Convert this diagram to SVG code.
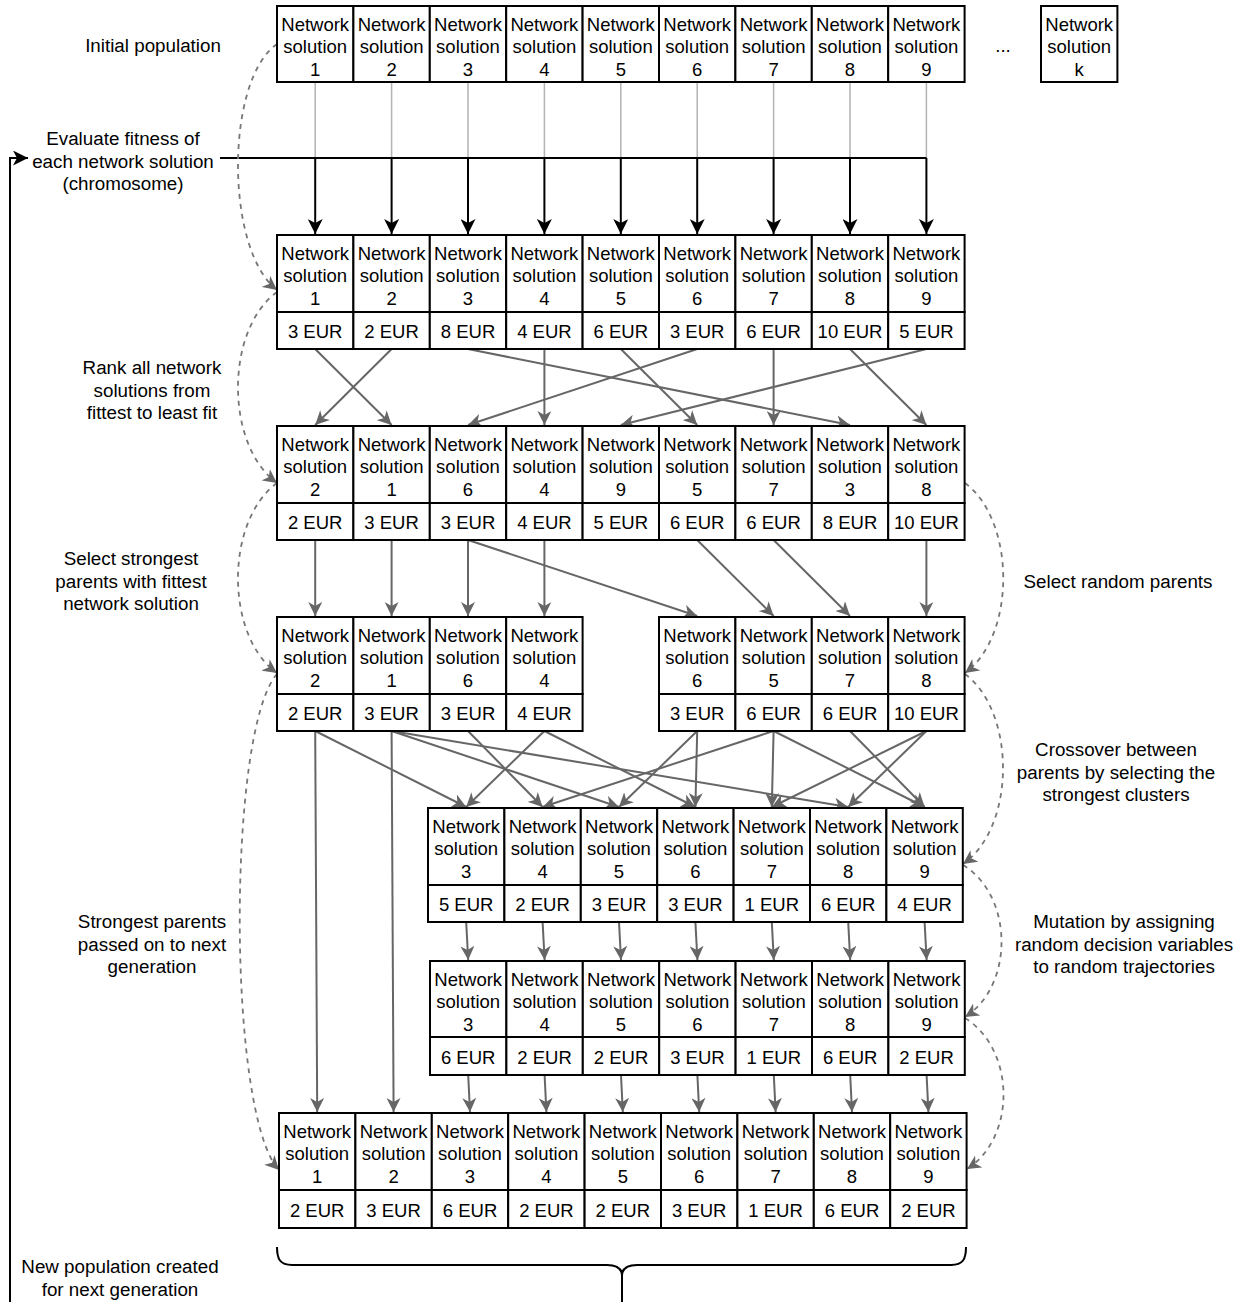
<svg xmlns="http://www.w3.org/2000/svg" width="1248" height="1302" viewBox="0 0 1248 1302">
<style>
.c{fill:#fff;stroke:#000;stroke-width:2}
.t{font-family:"Liberation Sans",Arial,sans-serif;font-size:18.5px;text-anchor:middle;fill:#000}
.lb{font-family:"Liberation Sans",Arial,sans-serif;font-size:18.8px;text-anchor:middle;fill:#000}
.g{stroke:#666;stroke-width:2;fill:none;marker-end:url(#ag)}
.k{stroke:#000;stroke-width:2;fill:none;marker-end:url(#ak)}
.lt{stroke:#b3b3b3;stroke-width:1.5;fill:none}
.d{stroke:#777;stroke-width:1.8;stroke-dasharray:5 5;fill:none;marker-end:url(#ag)}
.br{stroke:#000;stroke-width:2;fill:none}
</style>
<defs>
<marker id="ag" markerUnits="userSpaceOnUse" markerWidth="14" markerHeight="14" viewBox="0 0 14 14" refX="14" refY="7" orient="auto"><path d="M0,0 L14,7 L0,14 L4,7 Z" fill="#666"/></marker>
<marker id="ak" markerUnits="userSpaceOnUse" markerWidth="15" markerHeight="15" viewBox="0 0 15 15" refX="15" refY="7.5" orient="auto"><path d="M0,0 L15,7.5 L0,15 L4,7.5 Z" fill="#000"/></marker>
</defs>
<rect width="1248" height="1302" fill="#fff"/>

<g id="connectors">
<!-- initial population to evaluate line -->
<path class="lt" d="M315.2,82V158M391.6,82V158M468,82V158M544.4,82V158M620.8,82V158M697.2,82V158M773.6,82V158M850,82V158M926.4,82V158"/>
<path d="M220,158H926.4" stroke="#000" stroke-width="2" fill="none"/>
<path class="k" d="M315.2,158V234"/><path class="k" d="M391.6,158V234"/><path class="k" d="M468,158V234"/><path class="k" d="M544.4,158V234"/><path class="k" d="M620.8,158V234"/><path class="k" d="M697.2,158V234"/><path class="k" d="M773.6,158V234"/><path class="k" d="M850,158V234"/><path class="k" d="M926.4,158V234"/>
<path class="k" d="M10,1302V158H28"/>
<!-- rank -->
<path class="g" d="M315.2,349L391.6,425"/>
<path class="g" d="M391.6,349L315.2,425"/>
<path class="g" d="M468,349L850,425"/>
<path class="g" d="M544.4,349L544.4,425"/>
<path class="g" d="M620.8,349L697.2,425"/>
<path class="g" d="M697.2,349L468,425"/>
<path class="g" d="M773.6,349L773.6,425"/>
<path class="g" d="M850,349L926.4,425"/>
<path class="g" d="M926.4,349L620.8,425"/>
<!-- select -->
<path class="g" d="M315.2,540V616"/>
<path class="g" d="M391.6,540V616"/>
<path class="g" d="M468,540V616"/>
<path class="g" d="M468,540L697.2,616"/>
<path class="g" d="M544.4,540V616"/>
<path class="g" d="M697.2,540L773.6,616"/>
<path class="g" d="M773.6,540L850,616"/>
<path class="g" d="M926.4,540V616"/>
<!-- crossover -->
<path class="g" d="M315.2,731L466.2,807"/>
<path class="g" d="M391.6,731L619,807"/>
<path class="g" d="M391.6,731L848.2,807"/>
<path class="g" d="M468,731L542.6,807"/>
<path class="g" d="M544.4,731L466.2,807"/>
<path class="g" d="M544.4,731L695.4,807"/>
<path class="g" d="M697.2,731L619,807"/>
<path class="g" d="M697.2,731L695.4,807"/>
<path class="g" d="M773.6,731L542.6,807"/>
<path class="g" d="M773.6,731L771.8,807"/>
<path class="g" d="M773.6,731L924.6,807"/>
<path class="g" d="M850,731L924.6,807"/>
<path class="g" d="M926.4,731L771.8,807"/>
<path class="g" d="M926.4,731L848.2,807"/>
<!-- strongest parents passed on -->
<path class="g" d="M315.2,731L317.2,1112"/>
<path class="g" d="M391.6,731L393.6,1112"/>
<!-- mutation -->
<path class="g" d="M466.2,922L468.2,960"/>
<path class="g" d="M542.6,922L544.6,960"/>
<path class="g" d="M619,922L621,960"/>
<path class="g" d="M695.4,922L697.4,960"/>
<path class="g" d="M771.8,922L773.8,960"/>
<path class="g" d="M848.2,922L850.2,960"/>
<path class="g" d="M924.6,922L926.6,960"/>
<!-- to new population -->
<path class="g" d="M468.2,1075L470,1112"/>
<path class="g" d="M544.6,1075L546.4,1112"/>
<path class="g" d="M621,1075L622.8,1112"/>
<path class="g" d="M697.4,1075L699.2,1112"/>
<path class="g" d="M773.8,1075L775.6,1112"/>
<path class="g" d="M850.2,1075L852,1112"/>
<path class="g" d="M926.6,1075L928.4,1112"/>
<!-- dashed step curves left -->
<path class="d" d="M277,44C225,80 225,250 277,290"/>
<path class="d" d="M277,292C225,330 225,445 277,483"/>
<path class="d" d="M277,483C225,521 225,636 277,673"/>
<path class="d" d="M277,674C227,730 227,1115 279,1170"/>
<!-- dashed step curves right -->
<path class="d" d="M965,483C1016,521 1016,636 965,673"/>
<path class="d" d="M965,674C1016,712 1016,827 963,864"/>
<path class="d" d="M963,865C1014,896 1014,986 965,1017"/>
<path class="d" d="M965,1018C1016,1050 1016,1138 967,1169"/>
<!-- brace -->
<path class="br" d="M277,1247C277,1259 280,1265 292,1265L607,1265C617,1265 622,1269 622,1276C622,1269 627,1265 637,1265L951,1265C963,1265 966,1259 966,1247"/>
<path class="br" d="M622,1270V1302"/>
</g>

<g id="labels">
<text class="lb" x="153" y="52">Initial population</text>
<text class="lb" x="123" y="145"><tspan x="123">Evaluate fitness of</tspan><tspan x="123" dy="22.7">each network solution</tspan><tspan x="123" dy="22.7">(chromosome)</tspan></text>
<text class="lb" x="152" y="374"><tspan x="152">Rank all network</tspan><tspan x="152" dy="22.7">solutions from</tspan><tspan x="152" dy="22.7">fittest to least fit</tspan></text>
<text class="lb" x="131" y="565"><tspan x="131">Select strongest</tspan><tspan x="131" dy="22.7">parents with fittest</tspan><tspan x="131" dy="22.7">network solution</tspan></text>
<text class="lb" x="152" y="928"><tspan x="152">Strongest parents</tspan><tspan x="152" dy="22.7">passed on to next</tspan><tspan x="152" dy="22.7">generation</tspan></text>
<text class="lb" x="120" y="1273"><tspan x="120">New population created</tspan><tspan x="120" dy="22.7">for next generation</tspan></text>
<text class="lb" x="1118" y="588">Select random parents</text>
<text class="lb" x="1116" y="756"><tspan x="1116">Crossover between</tspan><tspan x="1116" dy="22.7">parents by selecting the</tspan><tspan x="1116" dy="22.7">strongest clusters</tspan></text>
<text class="lb" x="1124" y="928"><tspan x="1124">Mutation by assigning</tspan><tspan x="1124" dy="22.7">random decision variables</tspan><tspan x="1124" dy="22.7">to random trajectories</tspan></text>
<text class="lb" x="1003" y="52">...</text>
</g>

<g id="initial-population">
<rect class="c" x="277" y="6" width="76.4" height="76"/><rect class="c" x="353.4" y="6" width="76.4" height="76"/><rect class="c" x="429.8" y="6" width="76.4" height="76"/><rect class="c" x="506.2" y="6" width="76.4" height="76"/><rect class="c" x="582.6" y="6" width="76.4" height="76"/><rect class="c" x="659" y="6" width="76.4" height="76"/><rect class="c" x="735.4" y="6" width="76.4" height="76"/><rect class="c" x="811.8" y="6" width="76.4" height="76"/><rect class="c" x="888.2" y="6" width="76.4" height="76"/>
<text class="t" y="30.5"><tspan x="315.2">Network</tspan><tspan x="391.6">Network</tspan><tspan x="468">Network</tspan><tspan x="544.4">Network</tspan><tspan x="620.8">Network</tspan><tspan x="697.2">Network</tspan><tspan x="773.6">Network</tspan><tspan x="850">Network</tspan><tspan x="926.4">Network</tspan></text>
<text class="t" y="53"><tspan x="315.2">solution</tspan><tspan x="391.6">solution</tspan><tspan x="468">solution</tspan><tspan x="544.4">solution</tspan><tspan x="620.8">solution</tspan><tspan x="697.2">solution</tspan><tspan x="773.6">solution</tspan><tspan x="850">solution</tspan><tspan x="926.4">solution</tspan></text>
<text class="t" y="75.5"><tspan x="315.2">1</tspan><tspan x="391.6">2</tspan><tspan x="468">3</tspan><tspan x="544.4">4</tspan><tspan x="620.8">5</tspan><tspan x="697.2">6</tspan><tspan x="773.6">7</tspan><tspan x="850">8</tspan><tspan x="926.4">9</tspan></text>
</g>
<g id="solution-k">
<rect class="c" x="1041" y="6" width="76.4" height="76"/>
<text class="t" y="30.5"><tspan x="1079.2">Network</tspan></text>
<text class="t" y="53"><tspan x="1079.2">solution</tspan></text>
<text class="t" y="75.5"><tspan x="1079.2">k</tspan></text>
</g>

<g id="evaluated">
<rect class="c" x="277" y="235" width="76.4" height="77"/><rect class="c" x="353.4" y="235" width="76.4" height="77"/><rect class="c" x="429.8" y="235" width="76.4" height="77"/><rect class="c" x="506.2" y="235" width="76.4" height="77"/><rect class="c" x="582.6" y="235" width="76.4" height="77"/><rect class="c" x="659" y="235" width="76.4" height="77"/><rect class="c" x="735.4" y="235" width="76.4" height="77"/><rect class="c" x="811.8" y="235" width="76.4" height="77"/><rect class="c" x="888.2" y="235" width="76.4" height="77"/>
<rect class="c" x="277" y="312" width="76.4" height="37"/><rect class="c" x="353.4" y="312" width="76.4" height="37"/><rect class="c" x="429.8" y="312" width="76.4" height="37"/><rect class="c" x="506.2" y="312" width="76.4" height="37"/><rect class="c" x="582.6" y="312" width="76.4" height="37"/><rect class="c" x="659" y="312" width="76.4" height="37"/><rect class="c" x="735.4" y="312" width="76.4" height="37"/><rect class="c" x="811.8" y="312" width="76.4" height="37"/><rect class="c" x="888.2" y="312" width="76.4" height="37"/>
<text class="t" y="259.5"><tspan x="315.2">Network</tspan><tspan x="391.6">Network</tspan><tspan x="468">Network</tspan><tspan x="544.4">Network</tspan><tspan x="620.8">Network</tspan><tspan x="697.2">Network</tspan><tspan x="773.6">Network</tspan><tspan x="850">Network</tspan><tspan x="926.4">Network</tspan></text>
<text class="t" y="282"><tspan x="315.2">solution</tspan><tspan x="391.6">solution</tspan><tspan x="468">solution</tspan><tspan x="544.4">solution</tspan><tspan x="620.8">solution</tspan><tspan x="697.2">solution</tspan><tspan x="773.6">solution</tspan><tspan x="850">solution</tspan><tspan x="926.4">solution</tspan></text>
<text class="t" y="304.5"><tspan x="315.2">1</tspan><tspan x="391.6">2</tspan><tspan x="468">3</tspan><tspan x="544.4">4</tspan><tspan x="620.8">5</tspan><tspan x="697.2">6</tspan><tspan x="773.6">7</tspan><tspan x="850">8</tspan><tspan x="926.4">9</tspan></text>
<text class="t" y="337.5"><tspan x="315.2">3 EUR</tspan><tspan x="391.6">2 EUR</tspan><tspan x="468">8 EUR</tspan><tspan x="544.4">4 EUR</tspan><tspan x="620.8">6 EUR</tspan><tspan x="697.2">3 EUR</tspan><tspan x="773.6">6 EUR</tspan><tspan x="850">10 EUR</tspan><tspan x="926.4">5 EUR</tspan></text>
</g>

<g id="ranked">
<rect class="c" x="277" y="426" width="76.4" height="77"/><rect class="c" x="353.4" y="426" width="76.4" height="77"/><rect class="c" x="429.8" y="426" width="76.4" height="77"/><rect class="c" x="506.2" y="426" width="76.4" height="77"/><rect class="c" x="582.6" y="426" width="76.4" height="77"/><rect class="c" x="659" y="426" width="76.4" height="77"/><rect class="c" x="735.4" y="426" width="76.4" height="77"/><rect class="c" x="811.8" y="426" width="76.4" height="77"/><rect class="c" x="888.2" y="426" width="76.4" height="77"/>
<rect class="c" x="277" y="503" width="76.4" height="37"/><rect class="c" x="353.4" y="503" width="76.4" height="37"/><rect class="c" x="429.8" y="503" width="76.4" height="37"/><rect class="c" x="506.2" y="503" width="76.4" height="37"/><rect class="c" x="582.6" y="503" width="76.4" height="37"/><rect class="c" x="659" y="503" width="76.4" height="37"/><rect class="c" x="735.4" y="503" width="76.4" height="37"/><rect class="c" x="811.8" y="503" width="76.4" height="37"/><rect class="c" x="888.2" y="503" width="76.4" height="37"/>
<text class="t" y="450.5"><tspan x="315.2">Network</tspan><tspan x="391.6">Network</tspan><tspan x="468">Network</tspan><tspan x="544.4">Network</tspan><tspan x="620.8">Network</tspan><tspan x="697.2">Network</tspan><tspan x="773.6">Network</tspan><tspan x="850">Network</tspan><tspan x="926.4">Network</tspan></text>
<text class="t" y="473"><tspan x="315.2">solution</tspan><tspan x="391.6">solution</tspan><tspan x="468">solution</tspan><tspan x="544.4">solution</tspan><tspan x="620.8">solution</tspan><tspan x="697.2">solution</tspan><tspan x="773.6">solution</tspan><tspan x="850">solution</tspan><tspan x="926.4">solution</tspan></text>
<text class="t" y="495.5"><tspan x="315.2">2</tspan><tspan x="391.6">1</tspan><tspan x="468">6</tspan><tspan x="544.4">4</tspan><tspan x="620.8">9</tspan><tspan x="697.2">5</tspan><tspan x="773.6">7</tspan><tspan x="850">3</tspan><tspan x="926.4">8</tspan></text>
<text class="t" y="528.5"><tspan x="315.2">2 EUR</tspan><tspan x="391.6">3 EUR</tspan><tspan x="468">3 EUR</tspan><tspan x="544.4">4 EUR</tspan><tspan x="620.8">5 EUR</tspan><tspan x="697.2">6 EUR</tspan><tspan x="773.6">6 EUR</tspan><tspan x="850">8 EUR</tspan><tspan x="926.4">10 EUR</tspan></text>
</g>

<g id="strongest-parents">
<rect class="c" x="277" y="617" width="76.4" height="77"/><rect class="c" x="353.4" y="617" width="76.4" height="77"/><rect class="c" x="429.8" y="617" width="76.4" height="77"/><rect class="c" x="506.2" y="617" width="76.4" height="77"/>
<rect class="c" x="277" y="694" width="76.4" height="37"/><rect class="c" x="353.4" y="694" width="76.4" height="37"/><rect class="c" x="429.8" y="694" width="76.4" height="37"/><rect class="c" x="506.2" y="694" width="76.4" height="37"/>
<text class="t" y="641.5"><tspan x="315.2">Network</tspan><tspan x="391.6">Network</tspan><tspan x="468">Network</tspan><tspan x="544.4">Network</tspan></text>
<text class="t" y="664"><tspan x="315.2">solution</tspan><tspan x="391.6">solution</tspan><tspan x="468">solution</tspan><tspan x="544.4">solution</tspan></text>
<text class="t" y="686.5"><tspan x="315.2">2</tspan><tspan x="391.6">1</tspan><tspan x="468">6</tspan><tspan x="544.4">4</tspan></text>
<text class="t" y="719.5"><tspan x="315.2">2 EUR</tspan><tspan x="391.6">3 EUR</tspan><tspan x="468">3 EUR</tspan><tspan x="544.4">4 EUR</tspan></text>
</g>

<g id="random-parents">
<rect class="c" x="659" y="617" width="76.4" height="77"/><rect class="c" x="735.4" y="617" width="76.4" height="77"/><rect class="c" x="811.8" y="617" width="76.4" height="77"/><rect class="c" x="888.2" y="617" width="76.4" height="77"/>
<rect class="c" x="659" y="694" width="76.4" height="37"/><rect class="c" x="735.4" y="694" width="76.4" height="37"/><rect class="c" x="811.8" y="694" width="76.4" height="37"/><rect class="c" x="888.2" y="694" width="76.4" height="37"/>
<text class="t" y="641.5"><tspan x="697.2">Network</tspan><tspan x="773.6">Network</tspan><tspan x="850">Network</tspan><tspan x="926.4">Network</tspan></text>
<text class="t" y="664"><tspan x="697.2">solution</tspan><tspan x="773.6">solution</tspan><tspan x="850">solution</tspan><tspan x="926.4">solution</tspan></text>
<text class="t" y="686.5"><tspan x="697.2">6</tspan><tspan x="773.6">5</tspan><tspan x="850">7</tspan><tspan x="926.4">8</tspan></text>
<text class="t" y="719.5"><tspan x="697.2">3 EUR</tspan><tspan x="773.6">6 EUR</tspan><tspan x="850">6 EUR</tspan><tspan x="926.4">10 EUR</tspan></text>
</g>

<g id="crossover">
<rect class="c" x="428" y="808" width="76.4" height="77"/><rect class="c" x="504.4" y="808" width="76.4" height="77"/><rect class="c" x="580.8" y="808" width="76.4" height="77"/><rect class="c" x="657.2" y="808" width="76.4" height="77"/><rect class="c" x="733.6" y="808" width="76.4" height="77"/><rect class="c" x="810" y="808" width="76.4" height="77"/><rect class="c" x="886.4" y="808" width="76.4" height="77"/>
<rect class="c" x="428" y="885" width="76.4" height="37"/><rect class="c" x="504.4" y="885" width="76.4" height="37"/><rect class="c" x="580.8" y="885" width="76.4" height="37"/><rect class="c" x="657.2" y="885" width="76.4" height="37"/><rect class="c" x="733.6" y="885" width="76.4" height="37"/><rect class="c" x="810" y="885" width="76.4" height="37"/><rect class="c" x="886.4" y="885" width="76.4" height="37"/>
<text class="t" y="832.5"><tspan x="466.2">Network</tspan><tspan x="542.6">Network</tspan><tspan x="619">Network</tspan><tspan x="695.4">Network</tspan><tspan x="771.8">Network</tspan><tspan x="848.2">Network</tspan><tspan x="924.6">Network</tspan></text>
<text class="t" y="855"><tspan x="466.2">solution</tspan><tspan x="542.6">solution</tspan><tspan x="619">solution</tspan><tspan x="695.4">solution</tspan><tspan x="771.8">solution</tspan><tspan x="848.2">solution</tspan><tspan x="924.6">solution</tspan></text>
<text class="t" y="877.5"><tspan x="466.2">3</tspan><tspan x="542.6">4</tspan><tspan x="619">5</tspan><tspan x="695.4">6</tspan><tspan x="771.8">7</tspan><tspan x="848.2">8</tspan><tspan x="924.6">9</tspan></text>
<text class="t" y="910.5"><tspan x="466.2">5 EUR</tspan><tspan x="542.6">2 EUR</tspan><tspan x="619">3 EUR</tspan><tspan x="695.4">3 EUR</tspan><tspan x="771.8">1 EUR</tspan><tspan x="848.2">6 EUR</tspan><tspan x="924.6">4 EUR</tspan></text>
</g>

<g id="mutation">
<rect class="c" x="430" y="961" width="76.4" height="76"/><rect class="c" x="506.4" y="961" width="76.4" height="76"/><rect class="c" x="582.8" y="961" width="76.4" height="76"/><rect class="c" x="659.2" y="961" width="76.4" height="76"/><rect class="c" x="735.6" y="961" width="76.4" height="76"/><rect class="c" x="812" y="961" width="76.4" height="76"/><rect class="c" x="888.4" y="961" width="76.4" height="76"/>
<rect class="c" x="430" y="1037" width="76.4" height="38"/><rect class="c" x="506.4" y="1037" width="76.4" height="38"/><rect class="c" x="582.8" y="1037" width="76.4" height="38"/><rect class="c" x="659.2" y="1037" width="76.4" height="38"/><rect class="c" x="735.6" y="1037" width="76.4" height="38"/><rect class="c" x="812" y="1037" width="76.4" height="38"/><rect class="c" x="888.4" y="1037" width="76.4" height="38"/>
<text class="t" y="985.5"><tspan x="468.2">Network</tspan><tspan x="544.6">Network</tspan><tspan x="621">Network</tspan><tspan x="697.4">Network</tspan><tspan x="773.8">Network</tspan><tspan x="850.2">Network</tspan><tspan x="926.6">Network</tspan></text>
<text class="t" y="1008"><tspan x="468.2">solution</tspan><tspan x="544.6">solution</tspan><tspan x="621">solution</tspan><tspan x="697.4">solution</tspan><tspan x="773.8">solution</tspan><tspan x="850.2">solution</tspan><tspan x="926.6">solution</tspan></text>
<text class="t" y="1030.5"><tspan x="468.2">3</tspan><tspan x="544.6">4</tspan><tspan x="621">5</tspan><tspan x="697.4">6</tspan><tspan x="773.8">7</tspan><tspan x="850.2">8</tspan><tspan x="926.6">9</tspan></text>
<text class="t" y="1063.5"><tspan x="468.2">6 EUR</tspan><tspan x="544.6">2 EUR</tspan><tspan x="621">2 EUR</tspan><tspan x="697.4">3 EUR</tspan><tspan x="773.8">1 EUR</tspan><tspan x="850.2">6 EUR</tspan><tspan x="926.6">2 EUR</tspan></text>
</g>

<g id="new-population">
<rect class="c" x="279" y="1113" width="76.4" height="77"/><rect class="c" x="355.4" y="1113" width="76.4" height="77"/><rect class="c" x="431.8" y="1113" width="76.4" height="77"/><rect class="c" x="508.2" y="1113" width="76.4" height="77"/><rect class="c" x="584.6" y="1113" width="76.4" height="77"/><rect class="c" x="661" y="1113" width="76.4" height="77"/><rect class="c" x="737.4" y="1113" width="76.4" height="77"/><rect class="c" x="813.8" y="1113" width="76.4" height="77"/><rect class="c" x="890.2" y="1113" width="76.4" height="77"/>
<rect class="c" x="279" y="1190" width="76.4" height="38"/><rect class="c" x="355.4" y="1190" width="76.4" height="38"/><rect class="c" x="431.8" y="1190" width="76.4" height="38"/><rect class="c" x="508.2" y="1190" width="76.4" height="38"/><rect class="c" x="584.6" y="1190" width="76.4" height="38"/><rect class="c" x="661" y="1190" width="76.4" height="38"/><rect class="c" x="737.4" y="1190" width="76.4" height="38"/><rect class="c" x="813.8" y="1190" width="76.4" height="38"/><rect class="c" x="890.2" y="1190" width="76.4" height="38"/>
<text class="t" y="1137.5"><tspan x="317.2">Network</tspan><tspan x="393.6">Network</tspan><tspan x="470">Network</tspan><tspan x="546.4">Network</tspan><tspan x="622.8">Network</tspan><tspan x="699.2">Network</tspan><tspan x="775.6">Network</tspan><tspan x="852">Network</tspan><tspan x="928.4">Network</tspan></text>
<text class="t" y="1160"><tspan x="317.2">solution</tspan><tspan x="393.6">solution</tspan><tspan x="470">solution</tspan><tspan x="546.4">solution</tspan><tspan x="622.8">solution</tspan><tspan x="699.2">solution</tspan><tspan x="775.6">solution</tspan><tspan x="852">solution</tspan><tspan x="928.4">solution</tspan></text>
<text class="t" y="1182.5"><tspan x="317.2">1</tspan><tspan x="393.6">2</tspan><tspan x="470">3</tspan><tspan x="546.4">4</tspan><tspan x="622.8">5</tspan><tspan x="699.2">6</tspan><tspan x="775.6">7</tspan><tspan x="852">8</tspan><tspan x="928.4">9</tspan></text>
<text class="t" y="1216.5"><tspan x="317.2">2 EUR</tspan><tspan x="393.6">3 EUR</tspan><tspan x="470">6 EUR</tspan><tspan x="546.4">2 EUR</tspan><tspan x="622.8">2 EUR</tspan><tspan x="699.2">3 EUR</tspan><tspan x="775.6">1 EUR</tspan><tspan x="852">6 EUR</tspan><tspan x="928.4">2 EUR</tspan></text>
</g>
</svg>
